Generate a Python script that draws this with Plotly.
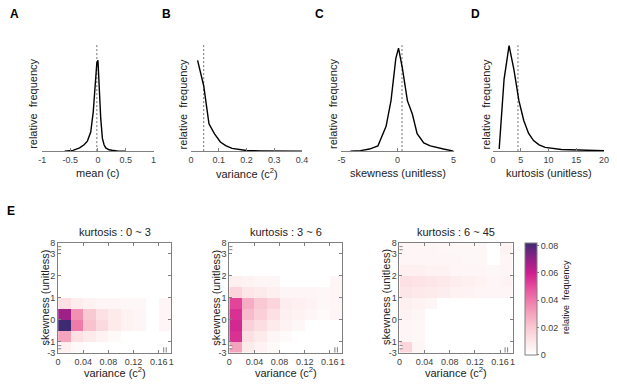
import numpy as np
import plotly.graph_objects as go

W, H = 617, 385
FONT = "Liberation Sans, Arial, sans-serif"
AX_COL = "#808080"
TICK_COL = "#404040"
TXT_COL = "#222222"

# ---------------- top row: distributions ----------------
mean_x = [-0.6, -0.45, -0.33, -0.25, -0.19, -0.13, -0.085, -0.05, -0.02, 0.0, 0.02, 0.05, 0.08, 0.11, 0.14, 0.2, 0.25, 0.37, 0.5]
mean_y = [0, 0.008, 0.035, 0.07, 0.11, 0.21, 0.43, 0.72, 0.97, 1.0, 0.72, 0.36, 0.14, 0.07, 0.035, 0.015, 0.01, 0, 0]
var_x = [0.024, 0.046, 0.065, 0.085, 0.106, 0.125, 0.148, 0.175, 0.2, 0.25, 0.3, 0.4]
var_y = [1.0, 0.72, 0.3, 0.19, 0.1, 0.06, 0.03, 0.014, 0.006, 0.002, 0, 0]
skew_x = [-4.2, -3.3, -2.5, -1.75, -1.02, -0.58, -0.15, 0.09, 0.44, 0.88, 1.32, 1.75, 2.34, 2.92, 4.1, 5]
skew_y = [0, 0.005, 0.02, 0.05, 0.24, 0.49, 0.9, 1.0, 0.8, 0.49, 0.36, 0.17, 0.08, 0.05, 0.02, 0.0]
kurt_x = [1.12, 2.0, 2.9, 3.78, 4.66, 5.54, 6.4, 7.3, 8.3, 9.4, 12.3, 16.5, 20]
kurt_y = [0.02, 0.68, 1.0, 0.77, 0.48, 0.29, 0.17, 0.1, 0.06, 0.035, 0.015, 0.006, 0.003]
markers = [-0.02, 0.046, 0.4, 4.5]          # dashed reference lines
top_ymax = [1.18, 1.18, 1.04, 1.015]
top_ranges = [[-1, 1], [0, 0.4], [-5, 5], [0, 20]]
top_ticks = [[-1, -0.5, 0, 0.5, 1], [0, 0.1, 0.2, 0.3, 0.4], [-5, 0, 5], [0, 5, 10, 15, 20]]
top_ticktext = [["-1", "-0.5", "0", "0.5", "1"], ["0", "0.1", "0.2", "0.3", "0.4"],
                ["-5", "0", "5"], ["0", "5", "10", "15", "20"]]
top_titles = ["mean (c)", "variance (c<sup>2</sup>)", "skewness (unitless)", "kurtosis (unitless)"]
top_letters = ["A", "B", "C", "D"]

# ---------------- bottom row: 2-D histograms ----------------
var_edges = [0, 0.02, 0.04, 0.06, 0.08, 0.10, 0.12, 0.14, 0.16, 1]
skew_edges = [-3, -1, -0.5, 0, 0.5, 1, 1.5, 2, 2.5, 3, 8]
var_ticks = [0, 0.04, 0.08, 0.12, 0.16, 1]
var_ticktext = ["0", "0.04", "0.08", "0.12", "0.16", "1"]
skew_ticks = [-3, -1, 0, 1, 2, 3, 8]
skew_ticktext = ["-3", "-1", "0", "1", "2", "3", "8"]
kurt_titles = ["kurtosis : 0 ~ 3", "kurtosis : 3 ~ 6", "kurtosis : 6 ~ 45"]

# rows: skewness bins (low -> high); columns: variance bins
z_k0_3 = [
    [0.006, 0.002, 0, 0, 0, 0, 0, 0, 0],
    [0.03, 0.012, 0.008, 0.005, 0.002, 0, 0, 0, 0],
    [0.082, 0.04, 0.022, 0.014, 0.008, 0.005, 0.004, 0, 0.004],
    [0.068, 0.035, 0.02, 0.012, 0.008, 0.005, 0.004, 0, 0.004],
    [0.012, 0.007, 0.005, 0.004, 0.004, 0.003, 0.003, 0, 0.004],
    [0, 0, 0, 0, 0, 0, 0, 0, 0],
    [0, 0, 0, 0, 0, 0, 0, 0, 0],
    [0, 0, 0, 0, 0, 0, 0, 0, 0],
    [0, 0, 0, 0, 0, 0, 0, 0, 0],
    [0, 0, 0, 0, 0, 0, 0, 0, 0],
]
z_k3_6 = [
    [0.03, 0.008, 0.005, 0.002, 0, 0, 0, 0, 0],
    [0.056, 0.012, 0.008, 0.004, 0.002, 0, 0, 0, 0],
    [0.058, 0.018, 0.013, 0.008, 0.005, 0.003, 0, 0, 0],
    [0.056, 0.024, 0.018, 0.012, 0.006, 0.005, 0.004, 0.002, 0.004],
    [0.052, 0.028, 0.02, 0.016, 0.007, 0.006, 0.005, 0.003, 0.004],
    [0.016, 0.01, 0.008, 0.006, 0.004, 0.004, 0.004, 0.003, 0.004],
    [0.006, 0.005, 0.004, 0.004, 0, 0, 0, 0, 0.004],
    [0, 0, 0, 0, 0, 0, 0, 0, 0],
    [0, 0, 0, 0, 0, 0, 0, 0, 0],
    [0, 0, 0, 0, 0, 0, 0, 0, 0],
]
z_k6_45 = [
    [0.015, 0.004, 0, 0, 0, 0, 0, 0, 0],
    [0.004, 0.003, 0, 0, 0, 0, 0, 0, 0],
    [0.004, 0.003, 0, 0, 0, 0, 0, 0, 0],
    [0.005, 0.004, 0, 0, 0, 0, 0, 0, 0],
    [0.006, 0.005, 0.004, 0, 0, 0, 0, 0, 0],
    [0.01, 0.009, 0.008, 0.007, 0.005, 0.005, 0.004, 0.004, 0.004],
    [0.012, 0.011, 0.01, 0.009, 0.007, 0.006, 0.005, 0.004, 0.005],
    [0.006, 0.006, 0.005, 0.005, 0.004, 0.004, 0.004, 0.003, 0.004],
    [0.004, 0.004, 0.004, 0.004, 0.004, 0.003, 0.003, 0, 0.004],
    [0.004, 0.004, 0.004, 0.003, 0.003, 0.003, 0.003, 0, 0.005],
]
z_panels = [z_k0_3, z_k3_6, z_k6_45]
cbar_ticks = [0, 0.02, 0.04, 0.06, 0.08]

colorscale = [
    [0.00, "#ffffff"], [0.12, "#fde6e8"], [0.25, "#f9c8d2"], [0.37, "#f5a3bd"],
    [0.49, "#ef7aab"], [0.61, "#e54d9c"], [0.73, "#cf1f8e"], [0.85, "#952286"],
    [1.00, "#3f2a72"],
]

# ---------------- layout helpers (window pixels -> paper) ----------------
def px_x(p):
    return p / W

def px_y(p):
    return 1 - p / H

top_dom_x = [(39, 152), (190, 303), (343, 457), (497, 610)]
top_dom_y = (40, 150)
top_ylab_x = [30, 182, 335, 490]
top_letter_x = [11, 165, 321, 479]
bot_dom_x = [(55, 170), (229, 344), (402, 517)]
bot_dom_y = (244, 357)

fig = go.Figure()
annotations = []
shapes = []
layout = dict(width=W, height=H, margin=dict(l=0, r=0, t=0, b=0), autosize=False,
              paper_bgcolor="white", plot_bgcolor="white", showlegend=False,
              font=dict(family=FONT, color=TXT_COL))

xs_top = [mean_x, var_x, skew_x, kurt_x]
ys_top = [mean_y, var_y, skew_y, kurt_y]
for i in range(4):
    n = i + 1
    xa = "x" if n == 1 else f"x{n}"
    ya = "y" if n == 1 else f"y{n}"
    fig.add_trace(go.Scatter(x=xs_top[i], y=ys_top[i], mode="lines",
                             line=dict(color="black", width=1.4),
                             xaxis=xa, yaxis=ya, hoverinfo="skip"))
    layout[f"xaxis{'' if n == 1 else n}"] = dict(
        domain=[px_x(top_dom_x[i][0]), px_x(top_dom_x[i][1])],
        anchor=ya, range=top_ranges[i], tickvals=top_ticks[i], ticktext=top_ticktext[i],
        showline=True, linecolor=AX_COL, linewidth=1, ticks="inside", ticklen=3,
        tickcolor=AX_COL, tickfont=dict(size=9, color=TICK_COL), tickangle=0,
        showgrid=False, zeroline=False)
    layout[f"yaxis{'' if n == 1 else n}"] = dict(
        domain=[px_y(top_dom_y[1]), px_y(top_dom_y[0])],
        anchor=xa, range=[0, top_ymax[i]], visible=False)
    shapes.append(dict(type="line", xref=xa, yref=f"{ya} domain",
                       x0=markers[i], x1=markers[i], y0=0, y1=1,
                       line=dict(color="#707070", width=1, dash="2px,2px"), layer="below"))
    cx = (top_dom_x[i][0] + top_dom_x[i][1]) / 2
    annotations.append(dict(text=top_titles[i], xref="paper", yref="paper",
                            x=px_x(cx), y=px_y(172), showarrow=False,
                            xanchor="center", yanchor="middle", font=dict(size=11, color=TXT_COL)))
    annotations.append(dict(text="relative\u00a0 frequency", xref="paper", yref="paper",
                            x=px_x(top_ylab_x[i]), y=px_y(102), showarrow=False, textangle=-90,
                            xanchor="center", yanchor="middle", font=dict(size=11, color=TXT_COL)))
    annotations.append(dict(text=f"<b>{top_letters[i]}</b>", xref="paper", yref="paper",
                            x=px_x(top_letter_x[i]), y=px_y(9), showarrow=False,
                            xanchor="center", yanchor="middle", font=dict(size=12, color="black")))

annotations.append(dict(text="<b>E</b>", xref="paper", yref="paper",
                        x=px_x(7), y=px_y(212), showarrow=False,
                        xanchor="center", yanchor="middle", font=dict(size=12, color="black")))

# display coordinates: every bin (incl. overflow bins) gets equal width
var_disp = np.arange(len(var_edges)) * 0.02
skew_disp = -1.5 + np.arange(len(skew_edges)) * 0.5
x_centers = (var_disp[:-1] + var_disp[1:]) / 2
y_centers = (skew_disp[:-1] + skew_disp[1:]) / 2
x_tickpos = np.interp(var_ticks, var_edges, var_disp)
y_tickpos = np.interp(skew_ticks, skew_edges, skew_disp)

for j in range(3):
    n = 5 + j
    xa, ya = f"x{n}", f"y{n}"
    fig.add_trace(go.Heatmap(z=z_panels[j], x=x_centers, y=y_centers,
                             coloraxis="coloraxis", xaxis=xa, yaxis=ya, hoverinfo="skip"))
    layout[f"xaxis{n}"] = dict(
        domain=[px_x(bot_dom_x[j][0]), px_x(bot_dom_x[j][1])], anchor=ya,
        range=[var_disp[0], var_disp[-1]], tickvals=list(x_tickpos), ticktext=var_ticktext,
        showline=True, mirror="ticks", linecolor=AX_COL, linewidth=1, ticks="inside",
        ticklen=3, tickcolor=AX_COL, tickfont=dict(size=9, color=TICK_COL), tickangle=0,
        showgrid=False, zeroline=False)
    layout[f"yaxis{n}"] = dict(
        domain=[px_y(bot_dom_y[1]), px_y(bot_dom_y[0])], anchor=xa,
        range=[skew_disp[0], skew_disp[-1]], tickvals=list(y_tickpos), ticktext=skew_ticktext,
        showline=True, mirror="ticks", linecolor=AX_COL, linewidth=1, ticks="inside",
        ticklen=3, tickcolor=AX_COL, tickfont=dict(size=9, color=TICK_COL), tickangle=0,
        showgrid=False, zeroline=False)
    cx = (bot_dom_x[j][0] + bot_dom_x[j][1]) / 2
    annotations.append(dict(text=kurt_titles[j], xref="paper", yref="paper",
                            x=px_x(cx), y=px_y(233), showarrow=False,
                            xanchor="center", yanchor="middle", font=dict(size=11, color=TXT_COL)))
    annotations.append(dict(text="variance (c<sup>2</sup>)", xref="paper", yref="paper",
                            x=px_x(cx), y=px_y(377), showarrow=False,
                            xanchor="center", yanchor="middle", font=dict(size=11, color=TXT_COL)))
    annotations.append(dict(text="skewness (unitless)", xref="paper", yref="paper",
                            x=px_x(bot_dom_x[j][0] - 13), y=px_y(300), showarrow=False, textangle=-90,
                            xanchor="center", yanchor="middle", font=dict(size=11, color=TXT_COL)))
    # axis-break marks
    for yb in (float(np.mean(skew_disp[-2:])), float(np.mean(skew_disp[:2]))):
        shapes.append(dict(type="rect", xref=xa, yref=ya, x0=-0.004, x1=0.004,
                           y0=yb - 0.07, y1=yb + 0.07, fillcolor="white", line=dict(width=0)))
        for dy in (-0.07, 0.07):
            shapes.append(dict(type="line", xref=xa, yref=ya, x0=-0.005, x1=0.005,
                               y0=yb + dy, y1=yb + dy, line=dict(color=AX_COL, width=1)))
    xb = float(np.mean(var_disp[-2:]))
    for dx in (-0.002, 0.002):
        shapes.append(dict(type="line", xref=xa, yref=ya, x0=xb + dx, x1=xb + dx,
                           y0=skew_disp[0], y1=skew_disp[0] + 0.25, line=dict(color=AX_COL, width=1)))

layout["coloraxis"] = dict(
    colorscale=colorscale, cmin=0, cmax=0.082,
    colorbar=dict(x=px_x(530), xanchor="left", y=px_y(301.5), yanchor="middle",
                  len=115 / H, lenmode="fraction", thickness=12, thicknessmode="pixels",
                  outlinewidth=1, outlinecolor=AX_COL, tickvals=cbar_ticks,
                  ticktext=["0", "0.02", "0.04", "0.06", "0.08"], ticks="outside", ticklen=2,
                  tickcolor=AX_COL, tickfont=dict(size=9, color=TICK_COL), xpad=0, ypad=0))
annotations.append(dict(text="relative\u00a0 frequency", xref="paper", yref="paper",
                        x=px_x(571), y=px_y(300), showarrow=False, textangle=-90,
                        xanchor="center", yanchor="middle", font=dict(size=9, color=TXT_COL)))

layout["annotations"] = annotations
layout["shapes"] = shapes
fig.update_layout(**layout)
fig.write_html("out.html", config={"displayModeBar": False, "staticPlot": True},
               post_script="document.body.style.margin='0px';")
